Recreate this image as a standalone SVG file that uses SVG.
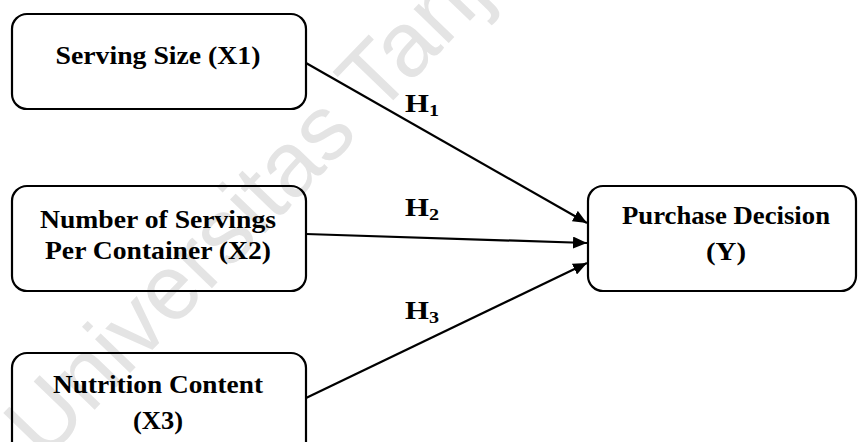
<svg xmlns="http://www.w3.org/2000/svg" width="858" height="442" viewBox="0 0 858 442">
<style>
.box{fill:none;stroke:#000;stroke-width:2.2}
.t{font-family:"Liberation Serif","Times New Roman",serif;font-weight:bold;font-size:26px;fill:#000;text-anchor:middle}
.h{font-family:"Liberation Serif","Times New Roman",serif;font-weight:bold;font-size:26px;fill:#000}
.c{stroke:#000;stroke-width:2.2;fill:none}
.wm{font-family:"Liberation Sans",Arial,sans-serif;font-size:92px;fill:#e4e4e4}
</style>
<defs>
<marker id="ah" viewBox="0 0 14 12" refX="14" refY="6" markerWidth="14" markerHeight="12" markerUnits="userSpaceOnUse" orient="auto">
<path d="M0,0 L14,6 L0,12 Z" fill="#000"/>
</marker>
</defs>
<rect width="858" height="442" fill="#fff"/>
<text class="wm" transform="translate(44,462) rotate(-46)">Universitas Tanj</text>
<g id="x1">
<rect class="box" x="12" y="14" width="294" height="95" rx="15"/>
<text class="t" x="158" y="64" textLength="205" lengthAdjust="spacingAndGlyphs">Serving Size (X1)</text>
</g>
<g id="x2">
<rect class="box" x="12" y="186" width="294" height="105" rx="15"/>
<text class="t" x="158" y="228" textLength="236" lengthAdjust="spacingAndGlyphs">Number of Servings</text>
<text class="t" x="158" y="259" textLength="226" lengthAdjust="spacingAndGlyphs">Per Container (X2)</text>
</g>
<g id="x3">
<rect class="box" x="12" y="353" width="294" height="105" rx="15"/>
<text class="t" x="158" y="393" textLength="210" lengthAdjust="spacingAndGlyphs">Nutrition Content</text>
<text class="t" x="158" y="429" textLength="50" lengthAdjust="spacingAndGlyphs">(X3)</text>
</g>
<g id="y">
<rect class="box" x="588" y="186" width="268" height="105" rx="15"/>
<text class="t" x="726" y="224" textLength="208" lengthAdjust="spacingAndGlyphs">Purchase Decision</text>
<text class="t" x="726" y="260" textLength="40" lengthAdjust="spacingAndGlyphs">(Y)</text>
</g>
<g id="connectors">
<line class="c" x1="306" y1="63" x2="587" y2="223" marker-end="url(#ah)"/>
<line class="c" x1="306" y1="234" x2="587" y2="243" marker-end="url(#ah)"/>
<line class="c" x1="306" y1="398" x2="587" y2="263" marker-end="url(#ah)"/>
<text class="h" x="405" y="112" textLength="34" lengthAdjust="spacingAndGlyphs">H<tspan font-size="17" dy="4">1</tspan></text>
<text class="h" x="405" y="216" textLength="34" lengthAdjust="spacingAndGlyphs">H<tspan font-size="17" dy="4">2</tspan></text>
<text class="h" x="405" y="319" textLength="34" lengthAdjust="spacingAndGlyphs">H<tspan font-size="17" dy="4">3</tspan></text>
</g>
</svg>
